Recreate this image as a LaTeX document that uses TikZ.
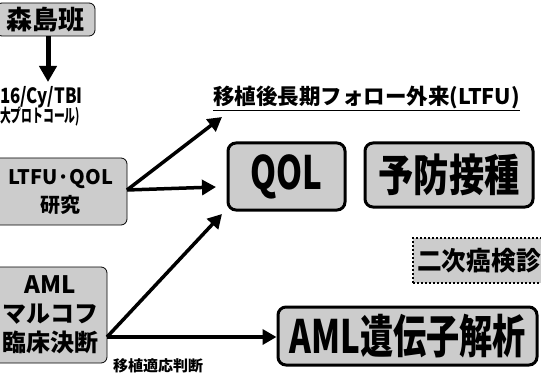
\documentclass[tikz,border=0pt]{standalone}
\usepackage{fontspec}
\usepackage{graphicx}
\setmainfont{Noto Sans CJK JP}
\usetikzlibrary{arrows.meta}
\definecolor{boxgray}{gray}{0.8}
\tikzset{
  softbox/.style={draw, line width=0.8pt, rounded corners=6pt, fill=boxgray, inner sep=0pt, align=center},
  heavybox/.style={draw, line width=3pt, rounded corners=8pt, fill=boxgray, inner sep=0pt},
  dotbox/.style={draw, dotted, line width=2pt, fill=boxgray, inner sep=0pt},
  arr/.style={line width=3.5pt, -{Triangle[length=14pt,width=15pt]}},
  plain/.style={inner sep=0pt, font=\bfseries}
}
\begin{document}
\begin{tikzpicture}[x=1pt,y=-1pt]
\useasboundingbox (0,0) rectangle (541,377);
\node[softbox, minimum width=99pt, minimum height=33pt, font=\bfseries\fontsize{26}{28}\selectfont] (mori) at (45.5,19.5) {森島班};
\node[plain, font=\bfseries\fontsize{21}{22}\selectfont, anchor=west] (cy) at (0,97) {\scalebox{0.8}[1]{16/Cy/TBI}};
\node[plain, font=\bfseries\fontsize{18}{19}\selectfont, anchor=west] (daip) at (0,117) {\scalebox{0.6}[1]{大プロトコール)}};
\node[plain, font=\bfseries\fontsize{21.5}{22}\selectfont, anchor=west] (title) at (213,97) {移植後長期フォロー外来(LTFU)};
\draw[line width=1.5pt] ([yshift=-2pt]title.south west) -- ([yshift=-2pt]title.south east);
\node[softbox, minimum width=133pt, minimum height=67pt, font=\bfseries\fontsize{20}{28}\selectfont] (ltfu) at (60.5,191.5) {LTFU·QOL\\研究};
\node[softbox, minimum width=113pt, minimum height=96pt, font=\bfseries\fontsize{24}{29}\selectfont] (aml) at (50.5,315) {AML\\マルコフ\\臨床決断};
\node[heavybox, minimum width=117pt, minimum height=67pt, font=\bfseries\fontsize{46}{48}\selectfont] (qol) at (286.5,176.5) {\scalebox{0.72}[1]{QOL}};
\node[heavybox, minimum width=168pt, minimum height=64pt, font=\bfseries\fontsize{44}{46}\selectfont] (yobo) at (449,175) {\scalebox{0.8}[1]{予防接種}};
\node[dotbox, minimum width=132pt, minimum height=45pt, font=\bfseries\fontsize{26}{28}\selectfont] (niji) at (479,260.5) {\scalebox{0.95}[1]{二次癌検診}};
\node[heavybox, minimum width=259pt, minimum height=58pt, font=\bfseries\fontsize{46}{48}\selectfont] (gene) at (407.5,336) {\scalebox{0.72}[1]{AML遺伝子解析}};
\node[plain, font=\bfseries\fontsize{15}{16}\selectfont, anchor=west] (tekio) at (113,366) {移植適応判断};
\coordinate (t1) at (222,117);
\coordinate (t2) at (216,187);
\coordinate (t3) at (222,214);
\coordinate (s1) at (127,190);
\coordinate (s2) at (107,337);
\draw[line width=5pt, -{Triangle[length=16pt,width=17pt]}] (mori.south -| 48,0) -- (48,82);
\draw[arr] (s1) -- (t1);
\draw[arr] (s1) -- (t2);
\draw[arr] (s2) -- (t3);
\draw[arr] (s2) -- (gene.west |- s2);
\end{tikzpicture}
\end{document}
